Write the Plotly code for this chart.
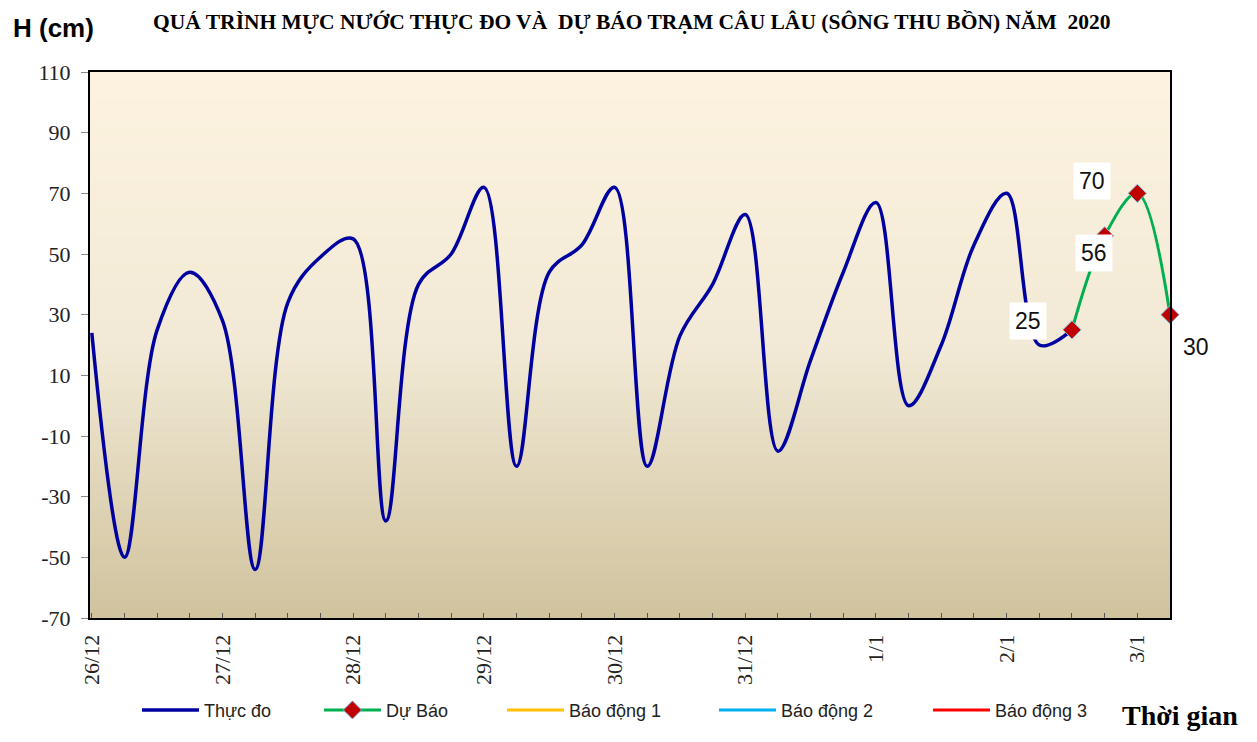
import pandas as pd
import plotly.graph_objects as go

# ---- data ----
obs_times = pd.date_range("2020-12-26 00:00", periods=31, freq="6h")
obs_values = [24, -50, 25, 44, 28, -54, 34, 49, 55, -38, 40, 50, 72, -20, 44, 53,
              72, -20, 23, 40, 63, -15, 15, 44, 67, 0, 20, 53, 70, 20, 25]
fc_times = pd.date_range("2021-01-02 12:00", periods=4, freq="6h")
fc_values = [25, 56, 70, 30]
alarm_names = ["Báo động 1", "Báo động 2", "Báo động 3"]
alarm_levels = [200, 300, 400]
alarm_colors = ["#FFC000", "#00B0F0", "#FF0000"]
day_ticks = pd.date_range("2020-12-26", periods=9, freq="D")
day_labels = ["26/12", "27/12", "28/12", "29/12", "30/12", "31/12", "1/1", "2/1", "3/1"]
y_ticks = list(range(-70, 111, 20))

fig = go.Figure()

fig.add_trace(go.Scatter(x=obs_times, y=obs_values, mode="lines", name="Thực đo",
                         legend="legend",
                         line=dict(color="#0000A0", width=3.5, shape="spline", smoothing=1.0)))
fig.add_trace(go.Scatter(x=fc_times, y=fc_values, mode="lines+markers", name="Dự Báo",
                         legend="legend2",
                         line=dict(color="#00B050", width=3, shape="spline", smoothing=1.0),
                         marker=dict(symbol="diamond", size=14, color="#C00000",
                                     line=dict(color="#7FC4E8", width=1)),
                         cliponaxis=False))
for i, (name, lvl, col) in enumerate(zip(alarm_names, alarm_levels, alarm_colors)):
    fig.add_trace(go.Scatter(x=[obs_times[0], fc_times[-1]], y=[lvl, lvl], mode="lines",
                             name=name, legend="legend%d" % (i + 3),
                             line=dict(color=col, width=3)))

# data labels
label_offsets = [(-44, 9), (-11, -17), (-45, 12), (26, -32)]
for (t, v), (dx, dy) in zip(zip(fc_times, fc_values), label_offsets):
    fig.add_annotation(x=t, y=v, text=str(v), showarrow=False, xshift=dx, yshift=dy,
                       font=dict(family="Liberation Sans, Arial", size=23, color="#111"),
                       bgcolor="white" if dx < 0 else "rgba(0,0,0,0)", borderpad=5)

# gradient background strips
n = 60
top = (253, 243, 224)
mid = (242, 234, 214)
bot = (209, 195, 158)
for i in range(n):
    f = (i + 0.5) / n  # 0 at bottom, 1 at top
    if f > 0.5:
        g = (f - 0.5) / 0.5
        c = tuple(int(mid[k] + (top[k] - mid[k]) * g) for k in range(3))
    else:
        g = f / 0.5
        c = tuple(int(bot[k] + (mid[k] - bot[k]) * g) for k in range(3))
    fig.add_shape(type="rect", xref="paper", yref="paper", x0=0, x1=1,
                  y0=i / n, y1=min(1, (i + 1.8) / n), fillcolor="rgb(%d,%d,%d)" % c,
                  line=dict(width=0), layer="below")

legend_style = dict(orientation="h", xanchor="left", y=-0.169, yanchor="middle",
                    font=dict(family="Liberation Sans, Arial", size=18, color="#222"),
                    itemwidth=57, bgcolor="rgba(0,0,0,0)")
legend_x = [0.0435, 0.2120, 0.3815, 0.5778, 0.7759]

# page has an 8px body margin, so the figure is sized/offset to compensate
fig.update_layout(
    width=1249, height=734,
    margin=dict(l=82, r=87, t=64, b=124),
    paper_bgcolor="white", plot_bgcolor="white",
    showlegend=True,
    legend=dict(x=legend_x[0], **legend_style),
    legend2=dict(x=legend_x[1], **legend_style),
    legend3=dict(x=legend_x[2], **legend_style),
    legend4=dict(x=legend_x[3], **legend_style),
    legend5=dict(x=legend_x[4], **legend_style),
    xaxis=dict(range=[obs_times[0] - pd.Timedelta(minutes=20), fc_times[-1]],
               tickvals=day_ticks, ticktext=day_labels, tickangle=-90,
               tickfont=dict(family="Liberation Serif, Times New Roman", size=22, color="#222"),
               ticks="inside", ticklen=5, tickcolor="#555", ticklabelstandoff=6,
               minor=dict(dtick=6 * 3600 * 1000, ticks="inside", ticklen=5, tickcolor="#555"),
               showgrid=False, showline=True, linecolor="black", linewidth=2, mirror=True,
               zeroline=False, automargin=False),
    yaxis=dict(range=[-70, 110], tickvals=y_ticks, ticktext=[str(v) for v in y_ticks],
               tickfont=dict(family="Liberation Serif, Times New Roman", size=22, color="#222"),
               ticks="outside", ticklen=7, tickcolor="#888", ticklabelstandoff=6,
               showgrid=False, showline=True, linecolor="black", linewidth=2, mirror=True,
               zeroline=False, automargin=False),
)

fig.add_annotation(xref="paper", yref="paper", x=0.502, y=1.0916, showarrow=False,
                   text="<b>QUÁ TRÌNH MỰC NƯỚC THỰC ĐO VÀ  DỰ BÁO TRẠM CÂU LÂU (SÔNG THU BỒN) NĂM  2020</b>",
                   font=dict(family="Liberation Serif, Times New Roman", size=21.5, color="black"),
                   xanchor="center", yanchor="middle")
fig.add_annotation(xref="paper", yref="paper", x=-0.034, y=1.08, showarrow=False,
                   text="<b>H (cm)</b>", xanchor="center", yanchor="middle",
                   font=dict(family="Liberation Sans, Arial", size=26, color="black"))
fig.add_annotation(xref="paper", yref="paper", x=1.009, y=-0.178, showarrow=False,
                   text="<b>Thời gian</b>", xanchor="center", yanchor="middle",
                   font=dict(family="Liberation Serif, Times New Roman", size=28, color="black"))

fig.write_html("out.html")
